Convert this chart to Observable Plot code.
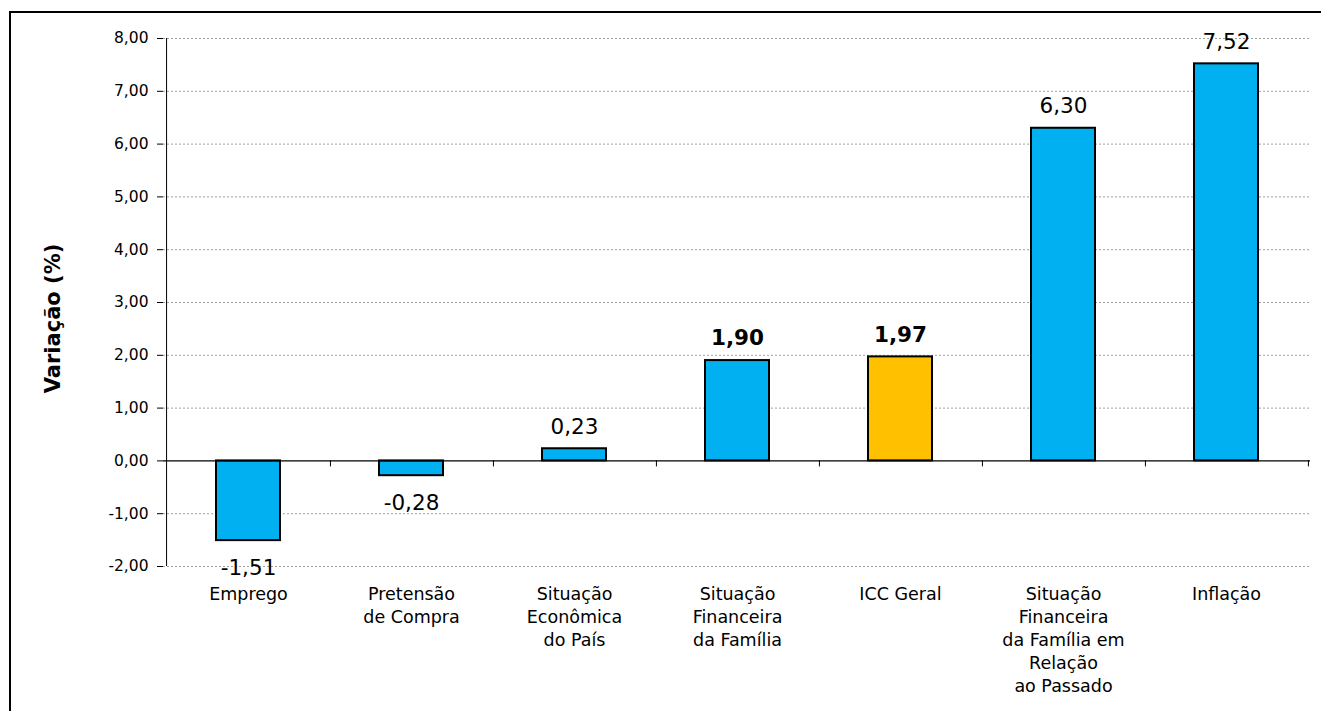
<!DOCTYPE html>
<html>
<head>
<meta charset="utf-8">
<script src="https://cdn.jsdelivr.net/npm/d3@7"></script>
<script src="https://cdn.jsdelivr.net/npm/@observablehq/plot@0.6"></script>
<style>
  html, body { margin: 0; padding: 0; background: #fff; overflow: hidden; width: 1321px; height: 711px; }
  #chart { position: absolute; left: 0; top: 0; }
  .edge { position: absolute; background: #000; pointer-events: none; z-index: 2; }
  #edge-top { left: 9px; top: 11px; width: 1312px; height: 2px; }
  #edge-left { left: 9px; top: 11px; width: 2px; height: 700px; }
</style>
</head>
<body>
<div id="chart"></div>
<div class="edge" id="edge-top"></div>
<div class="edge" id="edge-left"></div>
<script>
// Components of the consumer confidence index and their variation (%)
const categories = [
  "Emprego",
  "Pretensão de Compra",
  "Situação Econômica do País",
  "Situação Financeira da Família",
  "ICC Geral",
  "Situação Financeira da Família em Relação ao Passado",
  "Inflação"
];
const axisLabels = [
  "Emprego",
  "Pretensão\nde Compra",
  "Situação\nEconômica\ndo País",
  "Situação\nFinanceira\nda Família",
  "ICC Geral",
  "Situação\nFinanceira\nda Família em\nRelação\nao Passado",
  "Inflação"
];
const values = [-1.51, -0.28, 0.23, 1.90, 1.97, 6.30, 7.52];
const highlighted = ["Situação Financeira da Família", "ICC Geral"];
const yTicks = [-2, -1, 0, 1, 2, 3, 4, 5, 6, 7, 8];

const data = categories.map((c, i) => ({category: c, value: values[i], label: axisLabels[i]}));
const labelOf = new Map(data.map(d => [d.category, d.label]));
const fmt = v => v.toFixed(2).replace(".", ",");

const W = 1321, H = 711;
const mL = 163, mR = 11, mT = 38, mB = 145;
const step = (W - mL - mR) / categories.length;
const font = "'DejaVu Sans', sans-serif";

const chart = Plot.plot({
  width: W,
  height: H,
  marginLeft: mL,
  marginRight: mR,
  marginTop: mT,
  marginBottom: mB,
  style: {fontFamily: font, color: "#000", background: "#fff"},
  x: {domain: categories, paddingInner: 0.61, paddingOuter: 0.305, axis: null},
  y: {domain: [-2, 8], axis: null},
  marks: [
    // dashed horizontal gridlines
    Plot.ruleY(yTicks.filter(t => t !== 0), {stroke: "#a0a0a0", strokeWidth: 1, strokeDasharray: "2,2"}),
    // y axis line
    Plot.ruleX([0], {x: () => categories[0], dx: -step / 2, y1: -2, y2: 8, stroke: "#000", strokeWidth: 1}),
    Plot.axisY({
      ticks: yTicks, tickFormat: fmt, tickSize: 6, tickPadding: 9,
      fontSize: 15.5, label: null, stroke: "#000"
    }),
    Plot.axisX({
      tickSize: 0, tickPadding: 17, fontSize: 17.5, lineHeight: 1.314,
      tickFormat: c => labelOf.get(c), label: null, textAnchor: "middle"
    }),
    Plot.text(["Variação (%)"], {
      frameAnchor: "left", rotate: -90, dx: -110, dy: 16, textAnchor: "middle",
      fontWeight: "bold", fontSize: 21
    }),
    // bars
    Plot.barY(data, {
      x: "category", y: "value",
      fill: d => d.category === "ICC Geral" ? "#FFC000" : "#00B0F0",
      stroke: "#000", strokeWidth: 2
    }),
    // zero baseline
    Plot.ruleY([0], {stroke: "#000", strokeWidth: 1.2}),
    // category boundary ticks below the baseline
    Plot.ruleX(categories, {x: d => d, y1: 0, y2: 0, dx: step / 2, insetBottom: -6, stroke: "#000", strokeWidth: 1}),
    // value labels
    Plot.text(data.filter(d => d.value >= 0 && !highlighted.includes(d.category)), {
      x: "category", y: "value", text: d => fmt(d.value), dy: -22, fontSize: 21.5
    }),
    Plot.text(data.filter(d => highlighted.includes(d.category)), {
      x: "category", y: "value", text: d => fmt(d.value), dy: -22, fontSize: 21.5, fontWeight: "bold"
    }),
    Plot.text(data.filter(d => d.value < 0), {
      x: "category", y: "value", text: d => fmt(d.value), dy: 27, fontSize: 21.5
    })
  ]
});
document.getElementById("chart").appendChild(chart);
</script>
</body>
</html>
